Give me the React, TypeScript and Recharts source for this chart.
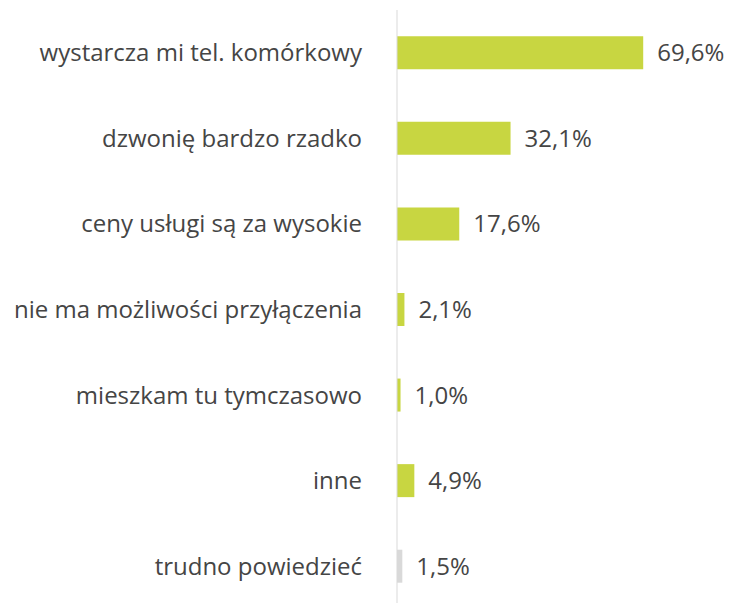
import React from "react";
import { BarChart, Bar, XAxis, YAxis, Cell, LabelList } from "recharts";

const categories = [
  "wystarcza mi tel. komórkowy",
  "dzwonię bardzo rzadko",
  "ceny usługi są za wysokie",
  "nie ma możliwości przyłączenia",
  "mieszkam tu tymczasowo",
  "inne",
  "trudno powiedzieć",
];
const values = [69.6, 32.1, 17.6, 2.1, 1.0, 4.9, 1.5];
const colors = ["#C8D641", "#C8D641", "#C8D641", "#C8D641", "#C8D641", "#C8D641", "#D9D9D9"];

const data = categories.map((name, i) => ({ name, value: values[i], color: colors[i] }));

const fmt = (v: any) => `${Number(v).toFixed(1).replace(".", ",")}%`;

export default function App() {
  return (
    <div style={{ position: "absolute", left: 0, top: 0, width: 732, height: 603, overflow: "hidden", background: "#fff" }}>
      <BarChart
        width={732}
        height={609}
        data={data}
        layout="vertical"
        margin={{ top: 10, right: 52, bottom: 0, left: 0 }}
        barCategoryGap="30.7%"
      >
        <XAxis type="number" domain={[0, 80]} hide />
        <YAxis
          type="category"
          dataKey="name"
          width={397}
          tickLine={false}
          tickSize={0}
          tickMargin={35}
          axisLine={{ stroke: "#D9D9D9", strokeWidth: 1 }}
          tick={{ fill: "#454545", fontSize: 24, fontFamily: "Open Sans" }}
          interval={0}
        />
        <Bar dataKey="value" isAnimationActive={false}>
          {data.map((d, i) => (
            <Cell key={i} fill={d.color} />
          ))}
          <LabelList
            dataKey="value"
            position="right"
            offset={14}
            formatter={fmt}
            style={{ fill: "#454545", fontSize: 24, fontFamily: "Open Sans" }}
          />
        </Bar>
      </BarChart>
    </div>
  );
}
